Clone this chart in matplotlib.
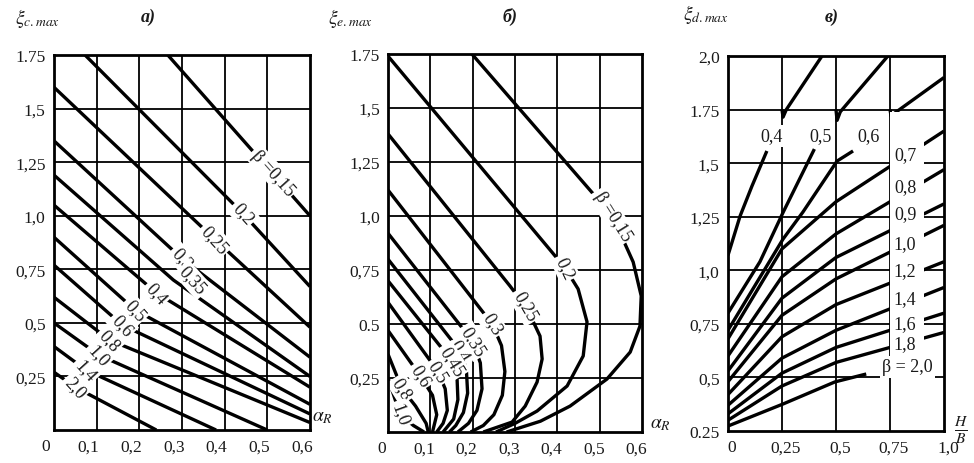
import matplotlib
matplotlib.use("Agg")
import matplotlib.pyplot as plt
import matplotlib.transforms as mtransforms
from matplotlib.patches import Rectangle

plt.rcParams["font.family"] = ["Liberation Serif", "DejaVu Serif"]
plt.rcParams["mathtext.fontset"] = "stix"

# ---------------- panel a): xi_c.max vs alpha_R ----------------
a_labels = ["β =0,15", "0,2", "0,25", "0,3", "0,35", "0,4", "0,5", "0,6",
            "0,8", "1,0", "1,4", "2,0"]
a_alpha = [
    [0.267, 0.60],
    [0.073, 0.443, 0.60],
    [0.0, 0.377, 0.60],
    [0.0, 0.30, 0.60],
    [0.0, 0.28, 0.60],
    [0.0, 0.24, 0.60],
    [0.0, 0.19, 0.60],
    [0.0, 0.16, 0.60],
    [0.0, 0.13, 0.60],
    [0.0, 0.105, 0.50],
    [0.0, 0.075, 0.38],
    [0.0, 0.05, 0.24],
]
a_xi = [
    [1.75, 1.0],
    [1.75, 1.01, 0.67],
    [1.60, 0.89, 0.48],
    [1.35, 0.80, 0.34],
    [1.19, 0.70, 0.25],
    [1.05, 0.64, 0.20],
    [0.90, 0.56, 0.12],
    [0.77, 0.49, 0.075],
    [0.62, 0.42, 0.035],
    [0.50, 0.35, 0.0],
    [0.39, 0.28, 0.0],
    [0.27, 0.20, 0.0],
]
a_label_alpha = [0.513, 0.443, 0.377, 0.30, 0.325, 0.241, 0.19, 0.16, 0.13, 0.105, 0.075, 0.05]
a_label_xi = [1.20, 1.01, 0.89, 0.80, 0.70, 0.64, 0.56, 0.49, 0.42, 0.35, 0.28, 0.20]

# ---------------- panel b): xi_e.max vs alpha_R ----------------
b_labels = ["β =0,15", "0,2", "0,25", "0,3", "0,35", "0,4", "0,45", "0,5",
            "0,6", "0,8", "1,0"]
b_alpha = [
    [0.198, 0.53, 0.579, 0.598, 0.595, 0.572, 0.517, 0.43, 0.36, 0.28],
    [0.0, 0.387, 0.418, 0.449, 0.47, 0.461, 0.423, 0.352, 0.30, 0.255],
    [0.0, 0.288, 0.324, 0.34, 0.359, 0.364, 0.352, 0.324, 0.293, 0.225],
    [0.0, 0.246, 0.268, 0.276, 0.27, 0.25, 0.225, 0.195],
    [0.0, 0.20, 0.218, 0.222, 0.21, 0.19, 0.165],
    [0.0, 0.17, 0.185, 0.188, 0.178, 0.16, 0.145],
    [0.0, 0.151, 0.163, 0.165, 0.155, 0.13],
    [0.0, 0.118, 0.135, 0.14, 0.13, 0.115],
    [0.0, 0.076, 0.105, 0.115, 0.105],
    [0.0, 0.033, 0.065, 0.09, 0.095],
    [0.0, 0.028, 0.06, 0.085],
]
b_xi = [
    [1.75, 1.0, 0.787, 0.63, 0.49, 0.37, 0.245, 0.12, 0.05, 0.0],
    [1.74, 0.833, 0.76, 0.662, 0.51, 0.352, 0.213, 0.097, 0.04, 0.0],
    [1.38, 0.676, 0.583, 0.523, 0.444, 0.338, 0.231, 0.12, 0.046, 0.0],
    [1.12, 0.50, 0.40, 0.28, 0.17, 0.08, 0.03, 0.0],
    [0.92, 0.42, 0.32, 0.20, 0.10, 0.04, 0.0],
    [0.80, 0.375, 0.29, 0.18, 0.09, 0.03, 0.0],
    [0.70, 0.329, 0.25, 0.15, 0.06, 0.0],
    [0.60, 0.28, 0.20, 0.10, 0.04, 0.0],
    [0.47, 0.26, 0.17, 0.08, 0.0],
    [0.36, 0.20, 0.12, 0.04, 0.0],
    [0.25, 0.083, 0.03, 0.0],
]
b_label_alpha = [0.53, 0.418, 0.324, 0.246, 0.20, 0.17, 0.151, 0.118, 0.076, 0.033, 0.028]
b_label_xi = [1.0, 0.76, 0.583, 0.50, 0.42, 0.375, 0.329, 0.28, 0.26, 0.20, 0.083]
b_label_rot = [-58, -65, -60, -58, -58, -58, -58, -58, -58, -58, -70]

# ---------------- panel c): xi_d.max vs H/B ----------------
c_labels = ["0,4", "0,5", "0,6", "0,7", "0,8", "0,9", "1,0", "1,2", "1,4",
            "1,6", "1,8", "β = 2,0"]
c_hb = [
    [0.0, 0.009, 0.056, 0.111, 0.18],
    [0.0, 0.148, 0.255, 0.40],
    [0.0, 0.255, 0.347, 0.505, 0.579],
    [0.0, 0.25, 0.5, 1.0],
    [0.0, 0.25, 0.5, 1.0],
    [0.0, 0.25, 0.5, 1.0],
    [0.0, 0.25, 0.5, 1.0],
    [0.0, 0.25, 0.5, 1.0],
    [0.0, 0.25, 0.5, 1.0],
    [0.0, 0.25, 0.5, 1.0],
    [0.0, 0.25, 0.5, 1.0],
    [0.0, 0.255, 0.495, 0.64],
]
c_xi = [
    [1.07, 1.099, 1.253, 1.393, 1.557],
    [0.80, 1.04, 1.27, 1.566],
    [0.72, 1.146, 1.272, 1.51, 1.557],
    [0.68, 1.10, 1.32, 1.65],
    [0.60, 0.97, 1.17, 1.47],
    [0.53, 0.87, 1.06, 1.31],
    [0.48, 0.79, 0.96, 1.21],
    [0.42, 0.69, 0.84, 1.04],
    [0.37, 0.59, 0.72, 0.92],
    [0.33, 0.52, 0.64, 0.80],
    [0.30, 0.46, 0.57, 0.71],
    [0.273, 0.376, 0.479, 0.516],
]
c_label_hb = [0.20, 0.43, 0.65, 0.82, 0.82, 0.82, 0.82, 0.82, 0.82, 0.82, 0.82, 0.83]
c_label_xi = [1.627, 1.627, 1.627, 1.54, 1.39, 1.263, 1.127, 0.997, 0.866, 0.75, 0.656, 0.549]
# upper pieces above xi = 1.75
c_top_hb = [[0.25, 0.255, 0.27, 0.435], [0.50, 0.505, 0.52, 0.74], [0.75, 0.755, 0.78, 1.0]]
c_top_xi = [[1.75, 1.715, 1.75, 2.0], [1.75, 1.70, 1.74, 2.0], [1.75, 1.72, 1.74, 1.90]]

LW = 2.4
GRID_LW = 1.3
TXT = "#1a1a1a"


def setup(ax, xlim, ylim, xt, xtl, yt, ytl, gx, gy, xshift):
    ax.set_xlim(*xlim)
    ax.set_ylim(*ylim)
    for x in gx:
        ax.axvline(x, color="k", lw=GRID_LW, zorder=1)
    for y in gy:
        ax.axhline(y, color="k", lw=GRID_LW, zorder=1)
    ax.set_xticks(xt)
    ax.set_xticklabels(xtl)
    ax.set_yticks(yt)
    ax.set_yticklabels(ytl)
    ax.tick_params(length=0, labelsize=12.5, colors=TXT, pad=6)
    off = mtransforms.ScaledTranslation(xshift / 100, 0, fig.dpi_scale_trans)
    for lab in ax.get_xticklabels():
        lab.set_transform(lab.get_transform() + off)
    for s in ax.spines.values():
        s.set_linewidth(2.0)
        s.set_zorder(5)


def curves(ax, xs, ys):
    for x, y in zip(xs, ys):
        ax.plot(x, y, color="k", lw=LW, zorder=2, solid_capstyle="butt",
                solid_joinstyle="round")


def labels(ax, texts, lx, ly, rots, size=13):
    for t, x, y, r in zip(texts, lx, ly, rots):
        ax.text(x, y, t, rotation=r, rotation_mode="anchor", ha="center",
                va="center", fontsize=size, color=TXT, zorder=4,
                bbox=dict(fc="white", ec="none", pad=1.5))


fig = plt.figure(figsize=(9.74, 4.64), dpi=100)
ax_a = fig.add_axes([0.0554, 0.0711, 0.2628, 0.808])
ax_b = fig.add_axes([0.3984, 0.0668, 0.2608, 0.8147])
ax_c = fig.add_axes([0.7474, 0.0690, 0.2218, 0.808])

ab_xt = [0, 0.1, 0.2, 0.3, 0.4, 0.5, 0.6]
ab_xtl = ["0", "0,1", "0,2", "0,3", "0,4", "0,5", "0,6"]
ab_yt = [0.25, 0.5, 0.75, 1.0, 1.25, 1.5, 1.75]

# a)
setup(ax_a, (0, 0.6), (0, 1.75), ab_xt, ab_xtl, ab_yt,
      ["0,25", "0,5", "0,75", "1,0", "1,25", "1,5", "1.75"],
      [0.1, 0.2, 0.3, 0.4, 0.5], [0.25, 0.5, 0.75, 1.0, 1.25, 1.5], -8)
curves(ax_a, a_alpha, a_xi)
labels(ax_a, a_labels, a_label_alpha, a_label_xi, [-48] * len(a_labels))

# b)
setup(ax_b, (0, 0.6), (0, 1.75), ab_xt, ab_xtl, ab_yt,
      ["0,25", "0.5", "0,75", "1,0", "1,25", "1,5", "1.75"],
      [0.1, 0.2, 0.3, 0.4, 0.5], [0.25, 0.5, 0.75, 1.0, 1.25, 1.5], -6)
curves(ax_b, b_alpha, b_xi)
labels(ax_b, b_labels, b_label_alpha, b_label_xi, b_label_rot)

# c)
setup(ax_c, (0, 1.0), (0.25, 2.0), [0, 0.25, 0.5, 0.75, 1.0],
      ["0", "0,25", "0,5", "0,75", "1,0"],
      [0.25, 0.5, 0.75, 1.0, 1.25, 1.5, 1.75, 2.0],
      ["0.25", "0,5", "0,75", "1,0", "1,25", "1,5", "1.75", "2,0"],
      [0.25, 0.5, 0.75], [0.5, 0.75, 1.0, 1.25, 1.5, 1.75], 4)
curves(ax_c, c_hb, c_xi)
curves(ax_c, c_top_hb, c_top_xi)
ax_c.add_patch(Rectangle((0.748, 0.51), 0.16, 1.23, fc="white", ec="none", zorder=3))
labels(ax_c, c_labels, c_label_hb, c_label_xi, [0] * len(c_labels))

# titles and axis names
for x, t in [(148, "а)"), (510, "б)"), (832, "в)")]:
    fig.text(x / 974, 1 - 17 / 464, t, fontsize=13, style="italic",
             weight="bold", ha="center", va="center", color=TXT)
fig.text(15 / 974, 1 - 18 / 464, r"$\xi_{c.max}$", fontsize=14, ha="left",
         va="center", color=TXT)
fig.text(328 / 974, 1 - 18 / 464, r"$\xi_{e.max}$", fontsize=14, ha="left",
         va="center", color=TXT)
fig.text(683 / 974, 1 - 15 / 464, r"$\xi_{d.max}$", fontsize=14, ha="left",
         va="center", color=TXT)
fig.text(322 / 974, 1 - 418 / 464, r"$\alpha_R$", fontsize=14, ha="center",
         va="center", color=TXT)
fig.text(660 / 974, 1 - 425 / 464, r"$\alpha_R$", fontsize=14, ha="center",
         va="center", color=TXT)
fig.text(961 / 974, 1 - 430 / 464, r"$\frac{H}{B}$", fontsize=16, ha="center",
         va="center", color=TXT)

fig.savefig("out.png", dpi=100, facecolor="white")
